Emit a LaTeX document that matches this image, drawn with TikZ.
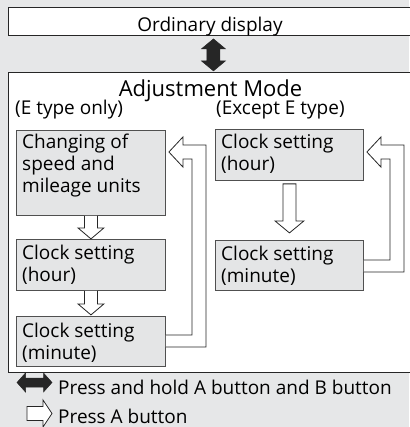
\documentclass[tikz,border=0pt]{standalone}
\usepackage{fontspec}
\setmainfont{Open Sans}
\usetikzlibrary{calc}
\definecolor{bg}{HTML}{E6E7E8}
\definecolor{boxfill}{HTML}{E4E5E6}
\definecolor{edge}{HTML}{505050}
\begin{document}
\begin{tikzpicture}[x=1pt,y=-1pt,
  txt/.style={font=\fontsize{19}{22}\selectfont, inner sep=0pt, anchor=base west},
  frame/.style={draw=black!85, fill=white, line width=0.9pt, anchor=north west, inner sep=0pt},
  box/.style={draw=edge, fill=boxfill, line width=0.9pt, anchor=north west, inner sep=0pt, minimum width=149pt},
  rbox/.style={draw=edge, fill=boxfill, line width=0.9pt, anchor=north west, inner sep=0pt, minimum width=148pt},
  hollow/.style={draw=black!85, fill=white, line width=0.8pt, line join=miter},
  solid arrow/.style={fill=black!85, draw=black!85, line width=0.5pt, line join=miter}]
\fill[bg] (0,0) rectangle (409,427);
\useasboundingbox (0,0) rectangle (409,427);

% frames
\node[frame, minimum width=410pt, minimum height=28pt] (od) at (8,7) {};
\node[txt, anchor=base] (odt) at (210,31.5) {Ordinary display};
\node[frame, minimum width=410pt, minimum height=300pt] (am) at (8,72) {};
\node[txt, anchor=base, font=\fontsize{22}{26}\selectfont] (amt) at (210.5,96.5) {Adjustment Mode};
\node[txt] (le) at (15,115) {(E type only)};
\node[txt] (re) at (216,115) {(Except E type)};

% black double arrow between frames
\draw[solid arrow] ($(od.south)+(0,3)$) -- ++(12,10) -- ++(-5.5,0) -- ++(0,12) -- ++(5.5,0)
  -- ++(-12,10) -- ++(-12,-10) -- ++(5.5,0) -- ++(0,-12) -- ++(-5.5,0) -- cycle;

% left column
\node[box, minimum height=85pt] (b1) at (16,130) {};
\node[txt] (b1t) at (22,149) {\begin{tabular}[t]{@{}l@{}}Changing of\\speed and\\mileage units\end{tabular}};
\node[box, minimum height=51pt] (b2) at (16,239) {};
\node[txt] (b2t) at (22,259) {\begin{tabular}[t]{@{}l@{}}Clock setting\\(hour)\end{tabular}};
\node[box, minimum height=50pt] (b3) at (16,316) {};
\node[txt] (b3t) at (22,337) {\begin{tabular}[t]{@{}l@{}}Clock setting\\(minute)\end{tabular}};

% right column
\node[rbox, minimum height=51pt] (r1) at (215,129) {};
\node[txt] (r1t) at (221,149) {\begin{tabular}[t]{@{}l@{}}Clock setting\\(hour)\end{tabular}};
\node[rbox, minimum height=50pt] (r2) at (215,240) {};
\node[txt] (r2t) at (221,260) {\begin{tabular}[t]{@{}l@{}}Clock setting\\(minute)\end{tabular}};

% hollow down arrows, left column
\draw[hollow] ($(b1.south)+(-6.5,0)$) -- ++(0,12) -- ++(-6.5,0) -- ++(13,11) -- ++(13,-11)
  -- ++(-6.5,0) -- ++(0,-12);
\draw[hollow] ($(b2.south)+(-6.5,0)$) -- ++(0,13) -- ++(-6.5,0) -- ++(13,11) -- ++(13,-11)
  -- ++(-6.5,0) -- ++(0,-13);
% hollow down arrow, right column
\draw[hollow] ($(r1.south)+(-6.5,3)$) -- ++(0,37) -- ++(-8,0) -- ++(14.5,12) -- ++(14.5,-12)
  -- ++(-8,0) -- ++(0,-37) -- cycle;

% loop back arrows
\draw[hollow] ($(b3.north east)+(0,31)$) -- ++(40,0) -- ($(b1.north east)+(40,15)$)
  -- ++(-23,0) -- ++(0,-8) -- ++(-14,15) -- ++(14,15) -- ++(0,-8) -- ++(9,0)
  -- ($(b3.north east)+(26,19)$) -- ++(-26,0);
\draw[hollow] ($(r2.north east)+(0,32)$) -- ++(40,0) -- ($(r1.north east)+(40,16)$)
  -- ++(-23,0) -- ++(0,-8) -- ++(-14,15) -- ++(14,15) -- ++(0,-8) -- ++(9,0)
  -- ($(r2.north east)+(26,20)$) -- ++(-26,0);

% legend
\coordinate (k1) at (17,382.5);
\draw[solid arrow] (k1) -- ++(8.5,-9.5) -- ++(0,5) -- ++(18,0) -- ++(0,-5) -- ++(8.5,9.5)
  -- ++(-8.5,9.5) -- ++(0,-5) -- ++(-18,0) -- ++(0,5) -- cycle;
\node[txt] (l1) at (58,394) {Press and hold A button and B button};
\coordinate (k2) at (27,413.5);
\draw[hollow] ($(k2)+(0,-7)$) -- ++(16,0) -- ++(0,-6.5) -- ++(9,13.5) -- ++(-9,13.5) -- ++(0,-6.5)
  -- ++(-16,0) -- cycle;
\node[txt] (l2) at (58,423) {Press A button};
\end{tikzpicture}
\end{document}
